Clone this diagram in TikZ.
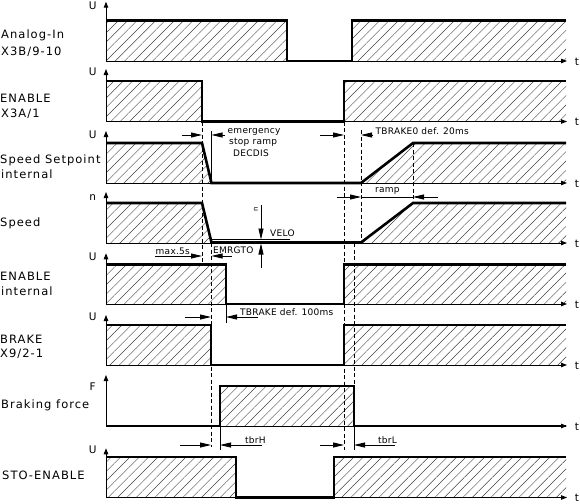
\documentclass[tikz,border=0pt]{standalone}
\usepackage{fontspec}
\setmainfont[LetterSpace=9]{DejaVu Sans}
\newfontfamily\smallfont[LetterSpace=3]{DejaVu Sans}
\usetikzlibrary{arrows.meta,patterns.meta}
\begin{document}
\begin{tikzpicture}[x=1pt,y=-1pt,
  sig/.style={line width=2.6pt,line join=miter},
  ax/.style={line width=0.9pt,-{Triangle[length=6pt,width=4.5pt]}},
  hatch/.style={pattern={Lines[angle=45,distance=6.6pt,line width=0.45pt]},pattern color=black!75},
  dsh/.style={line width=0.7pt,dash pattern=on 4pt off 2.5pt},
  dimtip/.style={line width=0.8pt,-{Triangle[length=11pt,width=5pt]}},
  ext/.style={line width=0.7pt},
  lbl/.style={font=\fontsize{11.5}{13}\selectfont,anchor=base west,inner sep=0pt},
  axl/.style={font=\fontsize{10.5}{12}\selectfont,anchor=base,inner sep=0pt},
  sml/.style={font=\smallfont\fontsize{9}{11}\selectfont,anchor=base west,inner sep=0pt},
]
\useasboundingbox (0,0) rectangle (580,503);

% hatched areas
\fill[hatch] (106,20.5) rectangle (287,61);
\fill[hatch] (352,20.5) rectangle (566,61);
\fill[hatch] (106,81) rectangle (202,121.5);
\fill[hatch] (344,81) rectangle (566,121.5);
\fill[hatch] (106,143) -- (202,143) -- (211.5,183) -- (106,183) -- cycle;
\fill[hatch] (361,183) -- (413,143) -- (566,143) -- (566,183) -- cycle;
\fill[hatch] (106,203) -- (202,203) -- (211.5,243) -- (106,243) -- cycle;
\fill[hatch] (361,243) -- (413,203) -- (566,203) -- (566,243) -- cycle;
\fill[hatch] (106,264.5) rectangle (226,304);
\fill[hatch] (344,264.5) rectangle (566,304);
\fill[hatch] (106,325) rectangle (211,365);
\fill[hatch] (344,325) rectangle (566,365);
\fill[hatch] (220,386) rectangle (354,426);
\fill[hatch] (106,457) rectangle (236,497.5);
\fill[hatch] (334,457) rectangle (566,497.5);

% axes
\foreach \b/\t [count=\i] in {61/1.7,121.5/69,183/131,243/192,304/253.3,365/315,426/375,497.5/448.3}{
  \draw[ax] (106,\b) -- (106,\t);
  \draw[ax] (106,\b) -- (567,\b);
  \node[axl] (tl\i) at (577,\b+4) {t};
}

% axis labels
\node[axl] (u1) at (92.7,9.5) {U};
\node[axl] (u2) at (92.7,75.2) {U};
\node[axl] (u3) at (92.7,138.5) {U};
\node[axl] (u4) at (92.7,200) {n};
\node[axl] (u5) at (92.7,260.2) {U};
\node[axl] (u6) at (92.7,320.2) {U};
\node[axl] (u7) at (92.7,390.5) {F};
\node[axl] (u8) at (92.7,453.8) {U};

% row labels
\node[lbl] (l1a) at (1,39) {Analog-In};
\node[lbl] (l1b) at (1,55.7) {X3B/9-10};
\node[lbl] (l2a) at (0,102.3) {ENABLE};
\node[lbl] (l2b) at (1,117) {X3A/1};
\node[lbl] (l3a) at (0,163) {Speed Setpoint};
\node[lbl] (l3b) at (1,178) {internal};
\node[lbl] (l4a) at (0,226) {Speed};
\node[lbl] (l5a) at (0,280.7) {ENABLE};
\node[lbl] (l5b) at (1,295.7) {internal};
\node[lbl] (l6a) at (0,343.3) {BRAKE};
\node[lbl] (l6b) at (0,357.3) {X9/2-1};
\node[lbl] (l7a) at (1,408) {Braking force};
\node[lbl] (l8a) at (2,479) {STO-ENABLE};

% dashed reference lines
\draw[dsh] (202,121.5) -- (202,263);
\draw[dsh] (211.2,243) -- (211.2,447);
\draw[dsh] (344,121.5) -- (344,450);
\draw[dsh] (354,243) -- (354,386);
\draw[dsh] (361,130) -- (361,243);
\draw[dsh] (413,143) -- (413,203);

% extension lines
\draw[ext] (211.5,131) -- (211.5,183);
\draw[ext] (226,304) -- (226,323);
\draw[ext] (220,426) -- (220,450);
\draw[ext] (354,426) -- (354,450);

% signals
\draw[sig] (106,20.5) -- (287,20.5) -- (287,61) -- (352,61) -- (352,20.5) -- (566,20.5);
\draw[sig] (106,81) -- (202,81) -- (202,121.5) -- (344,121.5) -- (344,81) -- (566,81);
\draw[sig] (106,143) -- (202,143) -- (211.5,183) -- (361,183) -- (413,143) -- (566,143);
\draw[sig] (106,203) -- (202,203) -- (211.5,242.5) -- (361,242.5) -- (413,203) -- (566,203);
\draw[sig] (106,264.5) -- (226,264.5) -- (226,304) -- (344,304) -- (344,264.5) -- (566,264.5);
\draw[sig] (106,325) -- (211,325) -- (211,365) -- (344,365) -- (344,325) -- (566,325);
\draw[sig] (106,426) -- (220,426) -- (220,386) -- (354,386) -- (354,426) -- (566,426);
\draw[sig] (106,457) -- (236,457) -- (236,497.5) -- (334,497.5) -- (334,457) -- (566,457);

% emergency stop ramp
\draw[dimtip] (182,135) -- (202,135);
\draw[dimtip] (225,135) -- (211.5,135);
\node[sml] (em1) at (227.5,133.5) {emergency};
\node[sml] (em2) at (229,144) {stop ramp};
\node[sml] (em3) at (233,156.6) {DECDIS};

% TBRAKE0
\draw[dimtip] (320,135) -- (344,135);
\draw[dimtip] (373,135) -- (361,135);
\node[sml] (tb0) at (375.5,134.5) {TBRAKE0 def. 20ms};

% ramp
\draw[dimtip] (337,197) -- (361,197);
\draw[dimtip] (438,197) -- (413,197);
\draw[ext] (361,197) -- (413,197);
\node[sml] (rmp) at (375,192.5) {ramp};

% VELO
\draw[ext] (211.5,239.5) -- (290,239.5);
\draw[dimtip] (261,205) -- (261,239.5);
\draw[dimtip] (261,268) -- (261,243.5);
\node[sml] (velo) at (270,236.6) {VELO};
\node[font=\smallfont\fontsize{7}{8}\selectfont,rotate=90,inner sep=0pt] (nsm) at (256,209) {n};

% max.5s / EMRGTO
\draw[dimtip] (155,256) -- (202,256);
\draw[dimtip] (232,256) -- (211.5,256);
\node[sml] (mx) at (155.5,254.5) {max.5s};
\node[sml] (emr) at (213,253.5) {EMRGTO};

% TBRAKE
\draw[dimtip] (185,317) -- (211,317);
\draw[dimtip] (258,317) -- (226,317);
\node[sml] (tbr) at (240,315) {TBRAKE def. 100ms};

% tbrH / tbrL
\draw[dimtip] (180,445) -- (211,445);
\draw[dimtip] (262,445) -- (220,445);
\node[sml] (tbh) at (245,443) {tbrH};
\draw[dimtip] (320,445) -- (344,445);
\draw[dimtip] (395,445) -- (354,445);
\node[sml] (tbl) at (378,443) {tbrL};
\end{tikzpicture}
\end{document}
